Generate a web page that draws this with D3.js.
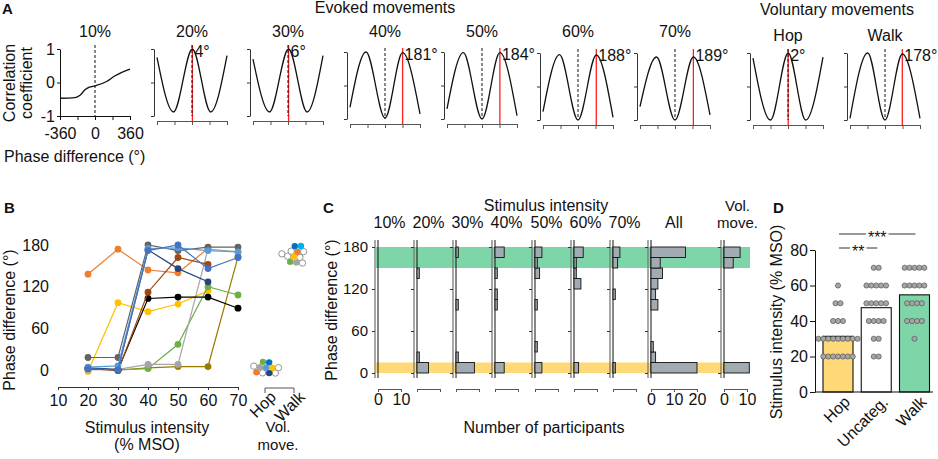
<!DOCTYPE html>
<html>
<head>
<meta charset="utf-8">
<script src="https://cdn.jsdelivr.net/npm/d3@7"></script>
<style>
  body { margin: 0; background: #fff; }
  text { font-family: "Liberation Sans", Arial, sans-serif; }
</style>
</head>
<body>
<div id="fig"></div>
<script>
// ---------- data ----------

// A: correlation coefficient vs phase difference, one curve per condition
const aTitles = ['10%', '20%', '30%', '40%', '50%', '60%', '70%', 'Hop', 'Walk'];
const aPeak = [null, 4, 6, 181, 184, 188, 189, 2, 178];
const aCurves = [
  [[-360, -0.47], [-206, -0.45], [-154, -0.38], [-103, -0.22], [-59, -0.14], [0, -0.1], [120, 0.03], [206, 0.2], [360, 0.4]],
  [[-360, 0.75], [-190, -0.88], [4, 1], [192, -0.88], [360, 0.8]],
  [[-360, 0.7], [-190, -0.88], [6, 1], [196, -0.88], [360, 0.8]],
  [[-360, -0.65], [-195, 1], [0, -0.97], [181, 0.98], [360, -0.85]],
  [[-360, -0.7], [-192, 0.98], [0, -1], [184, 0.98], [360, -0.9]],
  [[-360, -0.75], [-190, 0.95], [0, -1], [188, 0.94], [360, -0.92]],
  [[-360, -0.6], [-190, 0.88], [0, -1], [189, 0.88], [360, -0.85]],
  [[-360, 0.85], [-180, -1], [2, 1], [182, -1], [360, 0.88]],
  [[-360, -0.95], [-178, 1], [0, -1], [178, 0.97], [360, -0.95]]
];
const aLagTicks = [-360, -180, 0, 180, 360];
const aCorrTicks = [-1, 0, 1];

// B: phase difference per participant across stimulus intensities
const bIntensity = [20, 30, 40, 50, 60, 70];
const bIntensityTicks = [10, 20, 30, 40, 50, 60, 70];
const bPhaseTicks = [0, 60, 120, 180];
const bPhase = [
  [138, 174, 144, 140, 175, null],
  [-2, 97, 84, 95, 114, null],
  [null, 0, 3, 5, 5, 163],
  [null, 0, 2, 37, 120, 108],
  [0, 1, 8, 8, 174, 170],
  [2, 0, 103, 105, 105, 89],
  [2, -1, 112, 162, 152, null],
  [3, 1, 173, 146, 127, null],
  [18, 18, 180, 172, 177, 177],
  [4, 6, 175, 176, 172, 170],
  [2, 0, 172, 180, 146, 162]
];
const bColors = ['#ED7D31', '#FFC000', '#9C7A00', '#70AD47', '#A5A5A5', '#000000',
                 '#9E480E', '#264478', '#636363', '#5B9BD5', '#4472C4'];
const volGroups = ['Hop', 'Walk'];
const hopPhase = [0, 2, 4, 1, 0, 3, -1, 0, 5, 2, 10];
const hopColor = ['none', '#A5A5A5', '#0070C0', '#264478', '#5B9BD5', '#FFC000', '#ED7D31', 'none', 'none', 'none', '#70AD47'];
const walkPhase = [174, 177, 169, 161, 161, 160, 170, 172, 165, 155, 166, 160];
const walkColor = ['#0070C0', '#00B0F0', '#ED7D31', '#FFC000', '#70AD47', '#A5A5A5', 'none', 'none', 'none', 'none', 'none', 'none'];

// C: histograms of phase difference (15 deg bins), number of participants
const cColumns = ['10%', '20%', '30%', '40%', '50%', '60%', '70%', 'All', 'Vol. move.'];
const cBins = [0, 15, 30, 45, 60, 75, 90, 105, 120, 135, 150, 165];
const cCounts = [
  [0, 0, 0, 0, 0, 0, 0, 0, 0, 0, 0, 0],
  [5, 1, 0, 0, 0, 0, 0, 0, 0, 1, 0, 0],
  [8, 1, 0, 0, 0, 0, 1, 0, 0, 0, 0, 1],
  [4, 0, 0, 0, 0, 0, 1, 1, 0, 1, 0, 4],
  [3, 0, 1, 0, 0, 0, 1, 0, 0, 2, 1, 3],
  [2, 0, 0, 0, 0, 0, 0, 0, 3, 1, 1, 4],
  [1, 0, 0, 0, 0, 0, 0, 1, 0, 0, 2, 3],
  [20, 2, 1, 0, 0, 0, 3, 2, 3, 5, 4, 15],
  [11, 0, 0, 0, 0, 0, 0, 0, 0, 0, 4, 7]
];
const cHopBand = [0, 15];
const cWalkBand = [150, 180];

// D: stimulus intensity (% MSO) of each participant per category
const dGroups = ['Hop', 'Uncateg.', 'Walk'];
const dHop = [20, 20, 20, 20, 20, 20, 20, 30, 30, 30, 30, 30, 30, 30, 30, 30, 40, 40, 40, 50, 50, 60];
const dUncateg = [20, 20, 30, 30, 40, 40, 40, 40, 50, 50, 50, 50, 50, 60, 60, 60, 60, 60, 70, 70];
const dWalk = [30, 40, 40, 40, 40, 50, 50, 50, 50, 60, 60, 60, 60, 60, 70, 70, 70, 70, 70];
const dTicks = [0, 20, 40, 60, 80];

// ---------- drawing ----------
const W = 938, H = 459;
const hopYellow = '#FFD977', walkGreen = '#7ED6A8';

const svg = d3.select('#fig').append('svg')
  .attr('width', W).attr('height', H)
  .style('background-color', '#fff');

function addText(x, y, s, o = {}) {
  return svg.append('text')
    .attr('transform', `translate(${x},${y})` + (o.rot ? ` rotate(${o.rot})` : ''))
    .attr('text-anchor', o.anchor || 'middle')
    .attr('font-size', o.size || 16)
    .attr('font-weight', o.bold ? 'bold' : null)
    .attr('fill', '#111')
    .text(s);
}

function styleAxis(g, size, color) {
  g.attr('font-family', '"Liberation Sans", Arial, sans-serif').attr('font-size', size);
  g.selectAll('text').attr('fill', '#111');
  g.selectAll('line,path').attr('stroke', color || '#111');
}

// ===== A =====
addText(2, 14, 'A', { anchor: 'start', size: 15, bold: true });
addText(385, 13, 'Evoked movements');
addText(837, 15, 'Voluntary movements');

const aLeft = [60, 157, 253, 350, 447, 543, 640, 753, 850];
const aTop = [49, 49, 49, 52, 52, 53, 53, 53, 53];
const aW = 70, aH = 67;

aTitles.forEach((title, i) => {
  const first = i === 0;
  const x = d3.scaleLinear().domain([-360, 360]).range([aLeft[i], aLeft[i] + aW]);
  const y = d3.scaleLinear().domain([-1, 1]).range([aTop[i] + aH, aTop[i]]);
  const g = svg.append('g');

  addText(x(0), i < 7 ? 37 : 41, title);

  g.append('g')
    .attr('transform', `translate(${first ? aLeft[i] : aLeft[i] - 3},0)`)
    .call(d3.axisLeft(y).tickValues(aCorrTicks).tickSize(3).tickSizeOuter(0).tickPadding(2)
      .tickFormat(d => first ? String(d) : ''))
    .call(a => styleAxis(a, 16, first ? '#111' : '#333'));

  g.append('g')
    .attr('transform', `translate(0,${first ? aTop[i] + aH : aTop[i] + aH + 5})`)
    .call(d3.axisBottom(x).tickValues(aLagTicks).tickSize(4).tickSizeOuter(0).tickPadding(8)
      .tickFormat(d => first && Math.abs(d) !== 180 ? String(d) : ''))
    .call(a => styleAxis(a, 16, first ? '#111' : '#555'));

  if (aPeak[i] !== null) {
    g.append('line')
      .attr('x1', x(aPeak[i])).attr('x2', x(aPeak[i]))
      .attr('y1', aTop[i] - 4).attr('y2', aTop[i] + aH + 5)
      .attr('stroke', '#FF1E1E').attr('stroke-width', 1.3);
  }
  g.append('line')
    .attr('x1', x(0)).attr('x2', x(0))
    .attr('y1', aTop[i] - 4).attr('y2', aTop[i] + aH)
    .attr('stroke', '#111').attr('stroke-width', 1).attr('stroke-dasharray', '3,2');

  g.append('path').datum(aCurves[i])
    .attr('fill', 'none').attr('stroke', '#111').attr('stroke-width', 1.3)
    .attr('d', d3.line().x(d => x(d[0])).y(d => y(d[1])).curve(d3.curveMonotoneX));

  if (aPeak[i] !== null) {
    addText(x(aPeak[i]) + 2, aTop[i] + 8, aPeak[i] + '°', { anchor: 'start' });
  }
});

addText(15, 83, 'Correlation', { rot: -90 });
addText(32, 83, 'coefficient', { rot: -90 });
addText(4, 162, 'Phase difference (°)', { anchor: 'start' });

// ===== B =====
addText(4, 213, 'B', { anchor: 'start', size: 15, bold: true });
const xB = d3.scaleLinear().domain([10, 70]).range([58, 238]);
const yB = d3.scaleLinear().domain([0, 180]).range([370, 245]);

svg.append('g')
  .attr('transform', 'translate(53,0)')
  .call(d3.axisLeft(yB).tickValues(bPhaseTicks).tickSize(0).tickPadding(4))
  .call(a => { styleAxis(a, 16); a.select('.domain').remove(); });

svg.append('g')
  .attr('transform', 'translate(0,387)')
  .call(d3.axisBottom(xB).tickValues(bIntensityTicks).tickSize(3).tickSizeOuter(0).tickPadding(5))
  .call(a => styleAxis(a, 16, '#333'));

bPhase.forEach((vals, s) => {
  const pts = bIntensity.map((v, k) => [v, vals[k]]).filter(d => d[1] !== null);
  svg.append('path').datum(pts)
    .attr('fill', 'none').attr('stroke', bColors[s]).attr('stroke-width', 1.2)
    .attr('d', d3.line().x(d => xB(d[0])).y(d => yB(d[1])));
  svg.append('g').selectAll('circle').data(pts).enter().append('circle')
    .attr('cx', d => xB(d[0])).attr('cy', d => yB(d[1])).attr('r', 3.4)
    .attr('fill', bColors[s]);
});

// voluntary movements: small beeswarm next to the main plot
const xVol = d3.scalePoint().domain(volGroups).range([265, 294]);
svg.append('path')
  .attr('d', `M${xVol('Hop')},393V388H${xVol('Walk')}V393`)
  .attr('fill', 'none').attr('stroke', '#555').attr('stroke-width', 1);

function swarm(vals, cols, cx) {
  const nodes = vals.map((v, k) => ({ v, c: cols[k], x: cx + (k % 2 ? 1 : -1) * k * 0.6, y: yB(v) }));
  const sim = d3.forceSimulation(nodes)
    .force('x', d3.forceX(cx).strength(0.08))
    .force('y', d3.forceY(d => yB(d.v)).strength(0.5))
    .force('c', d3.forceCollide(3.1))
    .stop();
  for (let k = 0; k < 200; k++) sim.tick();
  return nodes;
}
[[hopPhase, hopColor, 'Hop'], [walkPhase, walkColor, 'Walk']].forEach(([vals, cols, grp]) => {
  const nodes = swarm(vals, cols, xVol(grp) + 1);
  nodes.sort((a, b) => (a.c === 'none') - (b.c === 'none'));
  svg.append('g').selectAll('circle').data(nodes.reverse()).enter().append('circle')
    .attr('cx', d => d.x).attr('cy', d => d.y).attr('r', 3.2)
    .attr('fill', d => d.c === 'none' ? '#fff' : d.c)
    .attr('stroke', d => d.c === 'none' ? '#8a8a8a' : 'none')
    .attr('stroke-width', 0.9);
});
volGroups.forEach(grp => {
  addText(xVol(grp) + 12, 398, grp, { anchor: 'end', rot: -45 });
});

addText(147, 433, 'Stimulus intensity');
addText(147, 450, '(% MSO)');
addText(278, 432, 'Vol.', { size: 15 });
addText(278, 450, 'move.', { size: 15 });
addText(15, 320, 'Phase difference (°)', { rot: -90 });

// ===== C =====
addText(323, 213, 'C', { anchor: 'start', size: 15, bold: true });
addText(546, 211, 'Stimulus intensity');
const yC = d3.scaleLinear().domain([0, 180]).range([373, 247]);
const cLeft = [375, 414, 453, 492, 532, 571, 610, 648, 721];
const cPx = 2.3; // px per participant

svg.append('rect')
  .attr('x', 376).attr('width', 374)
  .attr('y', yC(cWalkBand[1])).attr('height', yC(cWalkBand[0]) - yC(cWalkBand[1]))
  .attr('fill', walkGreen);
svg.append('rect')
  .attr('x', 376).attr('width', 374)
  .attr('y', yC(cHopBand[1])).attr('height', yC(cHopBand[0]) - yC(cHopBand[1]))
  .attr('fill', hopYellow);

cColumns.forEach((col, i) => {
  const base = cLeft[i] + 3;
  const maxN = i === 7 ? 20 : 10;
  const xs = d3.scaleLinear().domain([0, maxN]).range([base, base + maxN * cPx]);
  const showNums = i === 0 || i >= 7;

  // column axis
  svg.append('line')
    .attr('x1', cLeft[i]).attr('x2', cLeft[i]).attr('y1', 240).attr('y2', 378)
    .attr('stroke', '#7a7a7a').attr('stroke-width', 1.3);
  svg.append('g')
    .attr('transform', `translate(${cLeft[i]},0)`)
    .call(d3.axisLeft(yC).tickValues(bPhaseTicks).tickSize(3).tickPadding(4)
      .tickFormat(d => i === 0 ? d : ''))
    .call(a => { styleAxis(a, 15, '#333'); a.select('.domain').remove(); });
  svg.append('line')
    .attr('x1', base).attr('x2', base).attr('y1', 240).attr('y2', 378)
    .attr('stroke', '#111').attr('stroke-width', 1);

  svg.append('g').selectAll('rect')
    .data(cBins.map((b, k) => ({ b, n: cCounts[i][k] })).filter(d => d.n > 0))
    .enter().append('rect')
    .attr('x', base).attr('width', d => xs(d.n) - base)
    .attr('y', d => yC(d.b + 15)).attr('height', d => yC(d.b) - yC(d.b + 15))
    .attr('fill', '#A3ABB2').attr('stroke', '#111').attr('stroke-width', 0.9);

  svg.append('g')
    .attr('transform', 'translate(0,389)')
    .call(d3.axisBottom(xs).tickValues(maxN === 20 ? [0, 10, 20] : [0, 10]).tickSize(3)
      .tickSizeOuter(0).tickPadding(2).tickFormat(d => showNums ? d : ''))
    .call(a => styleAxis(a, 16, '#555'));

  const lx = xs(maxN / 2);
  if (col === 'Vol. move.') {
    addText(lx + 2, 211, 'Vol.', { size: 15 });
    addText(lx + 2, 228, 'move.', { size: 15 });
  } else {
    addText(lx, 228, col);
  }
});

addText(544, 433, 'Number of participants');
addText(337, 310, 'Phase difference (°)', { rot: -90 });

// ===== D =====
addText(773, 213, 'D', { anchor: 'start', size: 15, bold: true });
const yD = d3.scaleLinear().domain([0, 80]).range([392, 250]);
const xD = d3.scalePoint().domain(dGroups).range([838, 914.5]);
const dValues = [dHop, dUncateg, dWalk];
const dFill = [hopYellow, '#fff', walkGreen];
const barW = 30;

dGroups.forEach((grp, i) => {
  const m = d3.mean(dValues[i]);
  svg.append('rect')
    .attr('x', xD(grp) - barW / 2).attr('width', barW)
    .attr('y', yD(m)).attr('height', yD(0) - yD(m))
    .attr('fill', dFill[i]).attr('stroke', '#111').attr('stroke-width', 1.1);
});

dGroups.forEach((grp, i) => {
  const rows = d3.groups(dValues[i], d => d);
  const dots = [];
  rows.forEach(([v, arr]) => {
    arr.forEach((_, j) => dots.push({ v, off: (j - (arr.length - 1) / 2) * 4.9 }));
  });
  svg.append('g').selectAll('circle').data(dots).enter().append('circle')
    .attr('cx', d => xD(grp) + d.off).attr('cy', d => yD(d.v)).attr('r', 2.6)
    .attr('fill', '#A6A6A6').attr('stroke', '#555').attr('stroke-width', 0.7);
});

svg.append('g')
  .attr('transform', 'translate(815,0)')
  .call(d3.axisLeft(yD).tickValues(dTicks).tickSize(5).tickSizeOuter(0).tickPadding(2))
  .call(a => styleAxis(a, 16));
svg.append('line')
  .attr('x1', 815).attr('x2', 933).attr('y1', yD(0)).attr('y2', yD(0))
  .attr('stroke', '#111').attr('stroke-width', 1);

dGroups.forEach(grp => {
  addText(xD(grp) + 13, 403, grp, { anchor: 'end', rot: -45 });
});
addText(782, 322, 'Stimulus intensity (% MSO)', { rot: -90 });

// significance brackets
[['Hop', 'Walk', '***', 234], ['Hop', 'Uncateg.', '**', 248]].forEach(([a, b, stars, ly]) => {
  svg.append('line')
    .attr('x1', xD(a) + 1).attr('x2', xD(b) + 1).attr('y1', ly).attr('y2', ly)
    .attr('stroke', '#333').attr('stroke-width', 1);
  addText((xD(a) + xD(b)) / 2 + 1, ly + 9, stars)
    .attr('stroke', '#fff').attr('stroke-width', 4).attr('paint-order', 'stroke');
});
</script>
</body>
</html>
